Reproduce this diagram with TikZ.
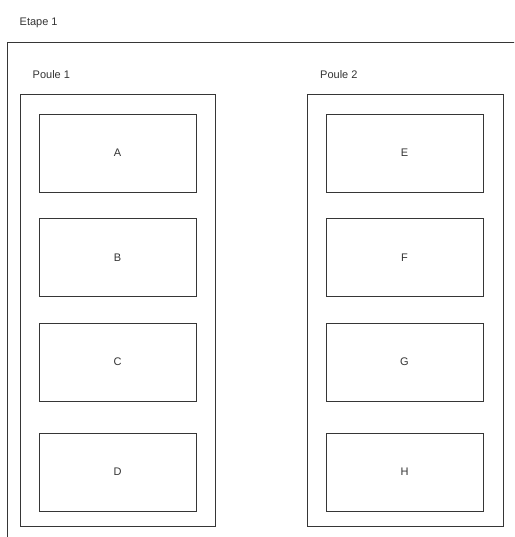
\documentclass[tikz,border=0pt]{standalone}
\usepackage{fontspec}
\setmainfont{Liberation Sans}
\definecolor{linegray}{HTML}{363636}
\definecolor{textgray}{HTML}{333333}
\begin{document}
\begin{tikzpicture}[x=1pt,y=-1pt,
  frame/.style={draw=linegray, line width=0.9pt, inner sep=0pt, outer sep=0pt},
  team/.style={frame, minimum width=157pt, minimum height=78pt, font=\fontsize{11}{13}\selectfont, text=textgray},
  caption/.style={anchor=base west, inner sep=0pt, font=\fontsize{11}{13}\selectfont, text=textgray}]
\useasboundingbox (0,0) rectangle (514,537);
\clip (0,0) rectangle (514,537);
% stage
\node[frame, anchor=north west, minimum width=600pt, minimum height=600pt] (etape) at (7,42) {};
\node[caption] (etapelbl) at (19.5,25.5) {Etape 1};
% pools
\node[frame, minimum width=195pt, minimum height=432pt] (poule1) at (117.5,310) {};
\node[frame, minimum width=196pt, minimum height=432pt] (poule2) at (405,310) {};
\node[caption] (poule1lbl) at (32.5,79) {Poule 1};
\node[caption] (poule2lbl) at (320,79) {Poule 2};
% teams
\node[team] (a) at (117.5,153) {A};
\node[team] (b) at (117.5,257.5) {B};
\node[team] (c) at (117.5,362) {C};
\node[team] (d) at (117.5,472) {D};
\node[team] (e) at (404.5,153) {E};
\node[team] (f) at (404.5,257.5) {F};
\node[team] (g) at (404.5,362) {G};
\node[team] (h) at (404.5,472) {H};
\end{tikzpicture}
\end{document}
